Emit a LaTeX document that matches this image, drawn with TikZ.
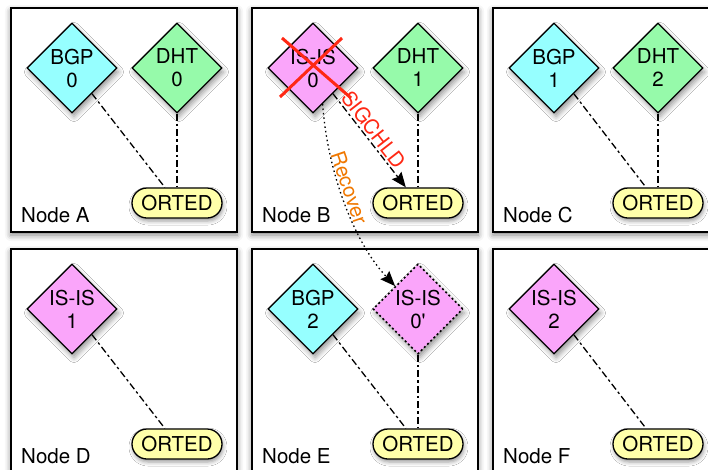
\documentclass[tikz,border=0pt]{standalone}
\usepackage{fontspec}
\setmainfont{TeX Gyre Heros}
\usepackage{xcolor}
\usepackage{tikz}
\usetikzlibrary{
    calc,
    positioning,
    shapes.geometric,
    arrows.meta,
    shadows.blur
}

\begin{document}
\begin{tikzpicture}[
    x=1pt, y=-1pt,
    font=\fontsize{20.5}{23}\selectfont,
    panel/.style={
    	draw, line width=1.5pt, fill=white,
    	minimum width=226pt, minimum height=224pt,
    	blur shadow={shadow xshift=0pt, shadow yshift=-3pt, shadow blur radius=6pt, shadow opacity=50}
    }, proc/.style={
    	diamond, aspect=1, draw, line width=1.3pt,
    	minimum size=90pt, inner sep=0pt, align=center,
    	blur shadow={shadow xshift=2pt, shadow yshift=-4pt, shadow blur radius=5pt, shadow opacity=40}
    }, orted/.style={
    	draw, fill=my-yellow, line width=1.3pt, rounded corners=15pt,
    	minimum width=90pt, minimum height=30pt, inner sep=0pt,
    	blur shadow={shadow xshift=1pt, shadow yshift=-3pt, shadow blur radius=4pt, shadow opacity=40}
    }, lbl/.style={
    	anchor=base west, inner sep=0pt
    }, link/.style={
    	line width=1.3pt,
    	dash pattern=on 7pt off 3pt on 2.5pt off 3pt
    }, tip/.style={
    	-{Stealth[length=15pt, width=12pt, inset=2pt]}
    }]
    \definecolor{my-cyan}{RGB}{150, 255, 255}
    \definecolor{my-green}{RGB}{150, 250, 170}
    \definecolor{my-pink}{RGB}{250, 165, 250}
    \definecolor{my-yellow}{RGB}{255, 255, 170}
    \definecolor{my-red}{RGB}{255, 40, 20}
    \definecolor{my-orange}{RGB}{240, 120, 0}

    \clip (0,0) rectangle (708,469);

    \node[panel] (panelA) at (124,120) {};
    \node[panel] (panelB) at (365,120) {};
    \node[panel] (panelC) at (606,120) {};
    \node[panel] (panelD) at (124,361) {};
    \node[panel] (panelE) at (365,361) {};
    \node[panel] (panelF) at (606,361) {};

    \node[lbl] (nameA) at (21,222) {Node A};
    \node[lbl] (nameB) at (262,222) {Node B};
    \node[lbl] (nameC) at (503,222) {Node C};
    \node[lbl] (nameD) at (21,463) {Node D};
    \node[lbl] (nameE) at (262,463) {Node E};
    \node[lbl] (nameF) at (503,463) {Node F};


    \node[proc, fill=my-cyan] (bgp0) at (72,68) {BGP\\0};
    \node[proc, fill=my-green] (dht0) at (177,68) {DHT\\0};
    \node[orted] (ortedA) at (177,203) {ORTED};

    \node[proc, fill=my-pink] (isis0) at (313,68) {IS-IS\\0};
    \node[proc, fill=my-green] (dht1) at (418,68) {DHT\\1};
    \node[orted] (ortedB) at (418,203) {ORTED};

    \node[proc, fill=my-cyan] (bgp1) at (554,68) {BGP\\1};
    \node[proc, fill=my-green] (dht2) at (658,68) {DHT\\2};
    \node[orted] (ortedC) at (658,203) {ORTED};

    \node[proc, fill=my-pink] (isis1) at (72,309) {IS-IS\\1};
    \node[orted] (ortedD) at (177,444) {ORTED};

    \node[proc, fill=my-cyan] (bgp2) at (313,309) {BGP\\2};
    \node[proc, fill=my-pink, line width=1.6pt, dash pattern=on 2pt off 2.5pt] (isis0p) at (418,309) {IS-IS\\0\textquotesingle};
    \node[orted] (ortedE) at (418,444) {ORTED};

    \node[proc, fill=my-pink] (isis2) at (554,309) {IS-IS\\2};
    \node[orted] (ortedF) at (658,444) {ORTED};


    \draw[link] (bgp0) -- (ortedA);
    \draw[link] (dht0) -- (ortedA);
    \draw[link] (dht1) -- (ortedB);
    \draw[link] (bgp1) -- (ortedC);
    \draw[link] (dht2) -- (ortedC);
    \draw[link] (isis1) -- (ortedD);
    \draw[link] (bgp2) -- (ortedE);
    \draw[link] (isis0p) -- (ortedE);
    \draw[link] (isis2) -- (ortedF);

    \draw[link, tip] (isis0) -- node[pos=0.45, sloped, above, inner sep=2pt, text=my-red] {SIGCHLD} (ortedB);
    \draw[tip, line width=1.3pt, dash pattern=on 1.5pt off 3pt] (isis0.-75) .. controls +(4,61) and +(-44,-47) .. node[pos=0.45, sloped, above, inner sep=1pt, text=my-orange] {Recover} (isis0p.north west);

    % killed process
    \draw[my-red, line width=3pt] ($(isis0)+(-31,-30)$) -- ($(isis0)+(38,30)$);
    \draw[my-red, line width=3pt] ($(isis0)+(29,-30)$) -- ($(isis0)+(-33,29)$);

\end{tikzpicture}
\end{document}
